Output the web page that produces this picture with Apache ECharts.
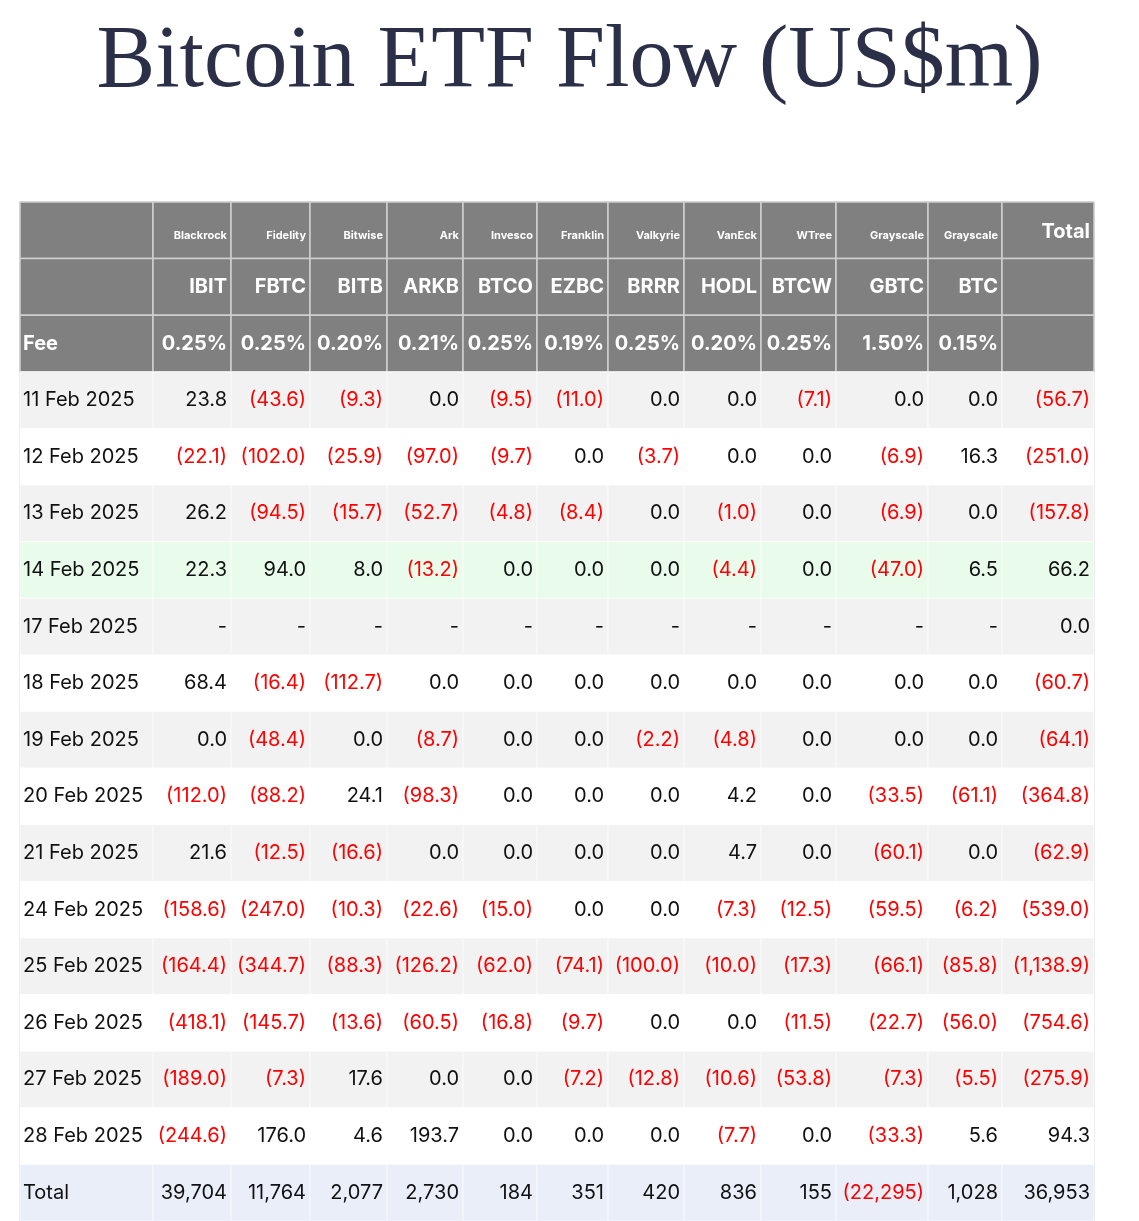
<!DOCTYPE html>
<html>
<head>
<meta charset="utf-8">
<script src="https://cdn.jsdelivr.net/npm/echarts@6/dist/echarts.min.js"></script>
<style>html,body{margin:0;padding:0;background:#fff}#main{width:1139px;height:1221px}</style>
</head>
<body>
<div id="main"></div>
<script>
// table data
var issuers = ['Blackrock', 'Fidelity', 'Bitwise', 'Ark', 'Invesco', 'Franklin', 'Valkyrie', 'VanEck', 'WTree', 'Grayscale', 'Grayscale'];
var tickers = ['IBIT', 'FBTC', 'BITB', 'ARKB', 'BTCO', 'EZBC', 'BRRR', 'HODL', 'BTCW', 'GBTC', 'BTC'];
var fees = ['0.25%', '0.25%', '0.20%', '0.21%', '0.25%', '0.19%', '0.25%', '0.20%', '0.25%', '1.50%', '0.15%'];
var dates = ['11 Feb 2025', '12 Feb 2025', '13 Feb 2025', '14 Feb 2025', '17 Feb 2025', '18 Feb 2025', '19 Feb 2025',
    '20 Feb 2025', '21 Feb 2025', '24 Feb 2025', '25 Feb 2025', '26 Feb 2025', '27 Feb 2025', '28 Feb 2025'];
// per date: 11 funds + total
var flows = [
    [23.8, -43.6, -9.3, 0.0, -9.5, -11.0, 0.0, 0.0, -7.1, 0.0, 0.0, -56.7],
    [-22.1, -102.0, -25.9, -97.0, -9.7, 0.0, -3.7, 0.0, 0.0, -6.9, 16.3, -251.0],
    [26.2, -94.5, -15.7, -52.7, -4.8, -8.4, 0.0, -1.0, 0.0, -6.9, 0.0, -157.8],
    [22.3, 94.0, 8.0, -13.2, 0.0, 0.0, 0.0, -4.4, 0.0, -47.0, 6.5, 66.2],
    [null, null, null, null, null, null, null, null, null, null, null, 0.0],
    [68.4, -16.4, -112.7, 0.0, 0.0, 0.0, 0.0, 0.0, 0.0, 0.0, 0.0, -60.7],
    [0.0, -48.4, 0.0, -8.7, 0.0, 0.0, -2.2, -4.8, 0.0, 0.0, 0.0, -64.1],
    [-112.0, -88.2, 24.1, -98.3, 0.0, 0.0, 0.0, 4.2, 0.0, -33.5, -61.1, -364.8],
    [21.6, -12.5, -16.6, 0.0, 0.0, 0.0, 0.0, 4.7, 0.0, -60.1, 0.0, -62.9],
    [-158.6, -247.0, -10.3, -22.6, -15.0, 0.0, 0.0, -7.3, -12.5, -59.5, -6.2, -539.0],
    [-164.4, -344.7, -88.3, -126.2, -62.0, -74.1, -100.0, -10.0, -17.3, -66.1, -85.8, -1138.9],
    [-418.1, -145.7, -13.6, -60.5, -16.8, -9.7, 0.0, 0.0, -11.5, -22.7, -56.0, -754.6],
    [-189.0, -7.3, 17.6, 0.0, 0.0, -7.2, -12.8, -10.6, -53.8, -7.3, -5.5, -275.9],
    [-244.6, 176.0, 4.6, 193.7, 0.0, 0.0, 0.0, -7.7, 0.0, -33.3, 5.6, 94.3]
];
var totals = [39704, 11764, 2077, 2730, 184, 351, 420, 836, 155, -22295, 1028, 36953];

// column edges in table units (date column + 11 funds + total)
var colEdges = [0, 133, 211, 290, 367, 443, 517, 588, 664, 741, 816, 908, 982, 1074];

function fmt(v, dec) {
    if (v === null) return '-';
    var s = Math.abs(v).toFixed(dec).replace(/\B(?=(\d{3})+(?!\d))/g, ',');
    return v < 0 ? '(' + s + ')' : s;
}

var rowKeys = ['h1', 'h2', 'fee'].concat(dates).concat(['Total']);
var cells = [];
function addCell(col, row, text, style) {
    cells.push({ value: [colEdges[col], colEdges[col + 1], row], cell: Object.assign({ text: text }, style) });
}
var hdrBg = '#808080';
for (var c = 0; c < 13; c++) {
    // header row 1: issuers
    if (c === 0) addCell(c, 0, '', { bg: hdrBg });
    else if (c <= 11) addCell(c, 0, issuers[c - 1], { bg: hdrBg, color: '#fff', size: 11, bold: true, dy: 5 });
    else addCell(c, 0, 'Total', { bg: hdrBg, color: '#fff', size: 20, bold: true, dy: 2 });
    // header row 2: tickers
    addCell(c, 1, c >= 1 && c <= 11 ? tickers[c - 1] : '', { bg: hdrBg, color: '#fff', size: 20, bold: true });
    // fee row
    if (c === 0) addCell(c, 2, 'Fee', { bg: hdrBg, color: '#fff', size: 20, bold: true, left: true });
    else addCell(c, 2, c <= 11 ? fees[c - 1] : '', { bg: hdrBg, color: '#fff', size: 20, bold: true });
}
dates.forEach(function (d, i) {
    var bg = i === 3 ? '#e9fbea' : (i % 2 === 0 ? '#f2f2f2' : '#ffffff');
    addCell(0, i + 3, d, { bg: bg, color: '#111', size: 20, left: true });
    flows[i].forEach(function (v, j) {
        addCell(j + 1, i + 3, fmt(v, 1), { bg: bg, color: v !== null && v < 0 ? '#ff0000' : '#111', size: 20 });
    });
});
var totRow = dates.length + 3;
addCell(0, totRow, 'Total', { bg: '#e9eef8', color: '#111', size: 20, left: true });
totals.forEach(function (v, j) {
    addCell(j + 1, totRow, fmt(v, 0), { bg: '#e9eef8', color: v < 0 ? '#ff0000' : '#111', size: 20 });
});

var chart = echarts.init(document.getElementById('main'));
chart.setOption({
    title: {
        text: 'Bitcoin ETF Flow (US$m)',
        left: 'center', top: 14,
        textStyle: { fontFamily: 'Liberation Serif', fontWeight: 'normal', fontSize: 88, color: '#2b3048' }
    },
    grid: { left: 20, top: 202, width: 1074, height: 1019, show: true, borderColor: '#cfcfcf', borderWidth: 1 },
    xAxis: { type: 'value', min: 0, max: 1074, show: false },
    yAxis: { type: 'category', data: rowKeys, inverse: true, show: false },
    series: [{
        type: 'custom',
        data: cells,
        renderItem: function (params, api) {
            var cell = cells[params.dataIndex].cell;
            var p0 = api.coord([api.value(0), api.value(2)]);
            var p1 = api.coord([api.value(1), api.value(2)]);
            var h = api.size([0, 1])[1];
            var header = cell.bg === hdrBg;
            return {
                type: 'group',
                children: [{
                    type: 'rect',
                    shape: { x: p0[0], y: p0[1] - h / 2, width: p1[0] - p0[0], height: h },
                    style: { fill: cell.bg, stroke: header ? '#cfcfcf' : 'rgba(255,255,255,0.6)', lineWidth: header ? 1.5 : 1 }
                }, {
                    type: 'text',
                    x: cell.left ? p0[0] + 3 : p1[0] - 4,
                    y: p0[1] + (cell.dy || 0),
                    style: {
                        text: cell.text,
                        fill: cell.color,
                        fontSize: cell.size,
                        fontWeight: cell.bold ? 'bold' : 'normal',
                        fontFamily: 'Inter',
                        align: cell.left ? 'left' : 'right',
                        verticalAlign: 'middle'
                    }
                }]
            };
        }
    }]
});
</script>
</body>
</html>
